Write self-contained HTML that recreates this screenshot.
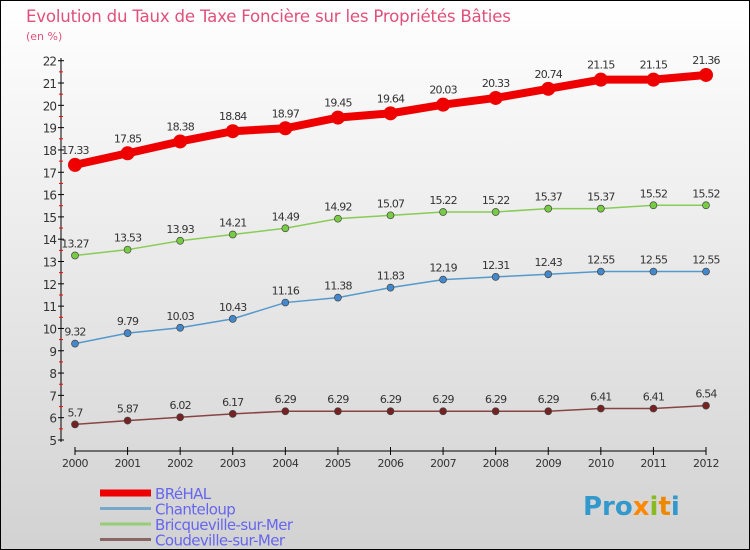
<!DOCTYPE html>
<html><head><meta charset="utf-8"><style>
body{margin:0;width:750px;height:550px;overflow:hidden;font-family:"DejaVu Sans","Liberation Sans",sans-serif}
#c{position:absolute;left:0;top:0;width:748px;height:548px;border:1px solid #000;background:linear-gradient(#ffffff,#d2d2d2)}
</style></head><body>
<div id="c">
<svg id="s" width="750" height="550" style="position:absolute;left:-1px;top:-1px">
<text x="26" y="22" font-size="16.6" fill="#e0507a" letter-spacing="-0.2">Evolution du Taux de Taxe Foncière sur les Propriétés Bâties</text>
<text x="26" y="40" font-size="11" fill="#e0507a">(en %)</text>
<g id="axes"></g><g id="series"></g><g id="legend"></g>
<text x="583" y="515" font-size="26" font-weight="bold" fill="#3399cc">Pro<tspan fill="#ff8800">x</tspan><tspan fill="#88bb22">i</tspan><tspan fill="#ee8800">t</tspan><tspan fill="#3399cc">i</tspan></text>
</svg></div>
<script>
const years=[2000,2001,2002,2003,2004,2005,2006,2007,2008,2009,2010,2011,2012];
const yTicks=[5,6,7,8,9,10,11,12,13,14,15,16,17,18,19,20,21,22];
const brehal=[17.33,17.85,18.38,18.84,18.97,19.45,19.64,20.03,20.33,20.74,21.15,21.15,21.36];
const chanteloup=[9.32,9.79,10.03,10.43,11.16,11.38,11.83,12.19,12.31,12.43,12.55,12.55,12.55];
const bricq=[13.27,13.53,13.93,14.21,14.49,14.92,15.07,15.22,15.22,15.37,15.37,15.52,15.52];
const coude=[5.7,5.87,6.02,6.17,6.29,6.29,6.29,6.29,6.29,6.29,6.41,6.41,6.54];
const names=["BRéHAL","Chanteloup","Bricqueville-sur-Mer","Coudeville-sur-Mer"];
const NS="http://www.w3.org/2000/svg";
function X(i){return 75+i*(706-75)/(years.length-1);}
function Y(v){return 440-(v-5)*(440-60.7)/17;}
function mk(p,t,a){const e=document.createElementNS(NS,t);for(const k in a)e.setAttribute(k,a[k]);p.appendChild(e);return e;}
const ax=document.getElementById('axes');
let l=mk(ax,'line',{x1:61,y1:58,x2:61,y2:442,stroke:'#000'});


l=mk(ax,'line',{x1:75,y1:451,x2:706,y2:451,stroke:'#000'});


yTicks.forEach(v=>{
 const y=Y(v);
 mk(ax,'line',{x1:58,y1:y,x2:64,y2:y,stroke:'#000'});
 if(v<22)mk(ax,'line',{x1:59,y1:y-11.15,x2:63,y2:y-11.15,stroke:'#f00'});
 const t=mk(ax,'text',{x:56,y:y+5,'font-size':12,fill:'#333','text-anchor':'end','letter-spacing':'-1'});
 t.textContent=v;
 
 
});
years.forEach((yr,i)=>{
 const x=X(i);
 mk(ax,'line',{x1:x,y1:447,x2:x,y2:455,stroke:'#000'});
 const t=mk(ax,'text',{x:x,y:467,'font-size':11,fill:'#333','text-anchor':'middle','letter-spacing':'-0.5'});
 t.textContent=yr;
 
 
});
const sg=document.getElementById('series');
const defs=[[brehal,'#ee0000','#ee0000',8,7,'brehal'],[bricq,'#88cc55','#77cc44',1.5,3.5,'bricqueville'],[chanteloup,'#5599cc','#4488cc',1.5,3.5,'chanteloup'],[coude,'#884444','#772222',1.5,3.5,'coudeville']];
defs.forEach(([d,lc,pc,w,r,nm])=>{
 const pl=mk(sg,'polyline',{points:d.map((v,i)=>X(i)+','+Y(v)).join(' '),fill:'none',stroke:lc,'stroke-width':w});
 
 
 d.forEach((v,i)=>{
  const c=mk(sg,'circle',{cx:X(i),cy:Y(v),r:r,fill:pc,stroke:'#444','stroke-width':r>4?0:0.7});
  
  
  const t=mk(sg,'text',{x:X(i),y:Y(v)-(r>4?11:8),'font-size':11,fill:'#333','text-anchor':'middle','letter-spacing':'-0.8'});
  t.textContent=String(v);
  
  
 });
});
const lg=document.getElementById('legend');
const lc=['#ee0000','#77a8cc','#99cc77','#886666'],lw=[7,3,3,3];
names.forEach((n,i)=>{
 const y=493+i*15.5;
 const ln=mk(lg,'line',{x1:100,y1:y,x2:151,y2:y,stroke:lc[i],'stroke-width':lw[i]});
 
 
 const t=mk(lg,'text',{x:155,y:y+6,'font-size':15,fill:'#6666ee','letter-spacing':'-0.6'});
 t.textContent=n;
 
 
});
</script>
</body></html>
